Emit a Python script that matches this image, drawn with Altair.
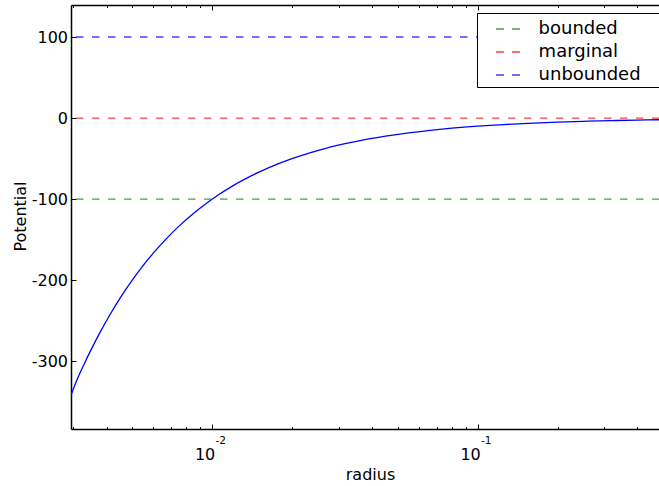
import altair as alt
import pandas as pd

# curve
radius = [0.00294, 0.0031, 0.0033, 0.0035, 0.0038, 0.0041, 0.0045, 0.005, 0.0055,
          0.006, 0.0067, 0.0075, 0.0085, 0.0095, 0.0105, 0.012, 0.0135, 0.015,
          0.0175, 0.02, 0.023, 0.027, 0.032, 0.038, 0.045, 0.055, 0.065, 0.08,
          0.1, 0.125, 0.155, 0.2, 0.25, 0.32, 0.4, 0.482]
potential = [-342.0, -322.6, -303.0, -285.7, -263.2, -243.9, -222.2, -200.0, -181.8,
             -166.7, -149.3, -133.3, -117.6, -105.3, -95.2, -83.3, -74.1, -66.7,
             -57.1, -50.0, -43.5, -37.0, -31.3, -26.3, -22.2, -18.2, -15.4, -12.5,
             -10.0, -8.0, -6.5, -5.0, -4.0, -3.1, -2.5, -2.1]

level_names = ["bounded", "marginal", "unbounded"]
level_values = [-100, 0, 100]
level_colors = ["#008000", "#ff0000", "#0000ff"]

x_domain = [0.00294, 0.482]
y_domain = [-383.6, 139.5]
y_ticks = [-300, -200, -100, 0, 100]
x_major = [0.01, 0.1]
x_minor = [0.003, 0.004, 0.005, 0.006, 0.007, 0.008, 0.009,
           0.02, 0.03, 0.04, 0.05, 0.06, 0.07, 0.08, 0.09,
           0.2, 0.3, 0.4]

curve = pd.DataFrame({"radius": radius, "potential": potential})
rows = []
for n, v in zip(level_names, level_values):
    for xv in x_domain:
        rows.append({"radius": xv, "potential": v, "kind": n})
levels = pd.DataFrame(rows)

W, H = 588, 424
FONT = "DejaVu Sans"

xs = alt.Scale(type="log", domain=x_domain, nice=False)
ys = alt.Scale(domain=y_domain, nice=False, zero=False)

major_test = "abs(log(datum.value)/LN10 - round(log(datum.value)/LN10)) < 0.001"
tick_size = {"condition": {"test": major_test, "value": 5}, "value": 2.5}

ax_bottom = alt.Axis(orient="bottom", values=x_major, labelExpr="'10'", ticks=False,
                     tickSize=0, domain=True, domainColor="black", domainWidth=1.5,
                     labelFontSize=16, labelBaseline="alphabetic", labelPadding=30.6,
                     labelOffset=-7.6, labelFlush=False, labelColor="black",
                     title="radius", titleX=299, titleY=50.8, titleBaseline="alphabetic",
                     titleAlign="center", titleFontSize=16, titleFontWeight="normal",
                     titleColor="black", grid=False)
ax_inticks = alt.Axis(orient="top", offset=-H, values=x_major + x_minor, labels=False,
                      domain=False, ticks=True, tickSize=tick_size, tickColor="black",
                      tickWidth=1, title=None, grid=False)
ax_topspine = alt.Axis(orient="bottom", offset=-H, values=x_major + x_minor, labels=False,
                       domain=True, domainColor="black", domainWidth=1.5, ticks=True,
                       tickSize=tick_size, tickColor="black", tickWidth=1, title=None,
                       grid=False)
ax_exp = alt.Axis(orient="bottom", values=x_major,
                  labelExpr="log(datum.value)/LN10 < -1.5 ? '-2' : '-1'",
                  ticks=False, tickSize=0, domain=False, labelFontSize=10.5,
                  labelBaseline="alphabetic", labelPadding=14.6, labelOffset=8,
                  labelFlush=False, labelColor="black", title=None, grid=False)

ay_left = alt.Axis(orient="left", values=y_ticks, labelExpr="'' + datum.value", ticks=False,
                   tickSize=0, domain=True, domainColor="black", domainWidth=1.5,
                   labelFontSize=16, labelPadding=3.5, labelColor="black", labelFlush=False,
                   title="Potential", titleX=-46, titleY=211, titleAngle=270,
                   titleBaseline="alphabetic", titleAlign="center", titleFontSize=16,
                   titleFontWeight="normal", titleColor="black", grid=False)
ay_inticks = alt.Axis(orient="right", offset=-W, values=y_ticks, labels=False, domain=False,
                      ticks=True, tickSize=5, tickColor="black", tickWidth=1, title=None,
                      grid=False)

layer_curve = alt.Chart(curve).mark_line(
    color="#0000ff", strokeWidth=1.3, interpolate="monotone", clip=True
).encode(
    x=alt.X("radius:Q", scale=xs, axis=ax_bottom),
    y=alt.Y("potential:Q", scale=ys, axis=ay_left),
)

layer_levels = alt.Chart(levels).mark_line(
    strokeWidth=1.3, strokeDash=[7.5, 8.5], strokeDashOffset=11, opacity=0.75, clip=True
).encode(
    x=alt.X("radius:Q", scale=xs, axis=ax_inticks),
    y=alt.Y("potential:Q", scale=ys, axis=ay_inticks),
    color=alt.Color(
        "kind:N",
        scale=alt.Scale(domain=level_names, range=level_colors),
        legend=alt.Legend(
            title="M", titleOrient="right", titlePadding=3.5, titleFontSize=12,
            titleOpacity=0, titleColor="white",
            orient="none", legendX=406, legendY=8,
            symbolType="stroke", symbolSize=576, symbolDash=[8, 8],
            symbolStrokeWidth=1.3, symbolOpacity=0.75, symbolOffset=15,
            labelOffset=17.6, labelFontSize=18, labelFont=FONT, labelColor="black",
            padding=3, rowPadding=1, strokeColor="black", fillColor="white",
            cornerRadius=0,
        ),
    ),
)

layer_top = alt.Chart(curve).mark_line(opacity=0).encode(
    x=alt.X("radius:Q", scale=xs, axis=ax_topspine),
    y=alt.Y("potential:Q", scale=ys, axis=None),
)

layer_exp = alt.Chart(curve).mark_line(opacity=0).encode(
    x=alt.X("radius:Q", scale=xs, axis=ax_exp),
    y=alt.Y("potential:Q", scale=ys, axis=None),
)

chart = alt.layer(layer_curve, layer_levels, layer_top, layer_exp).resolve_axis(
    x="independent", y="independent"
).properties(
    width=W, height=H,
    padding={"left": 71, "top": 5, "right": 0, "bottom": 57},
    autosize=alt.AutoSizeParams(type="none"),
    background="white",
).configure(font=FONT).configure_view(strokeWidth=0).configure_axis(
    labelFont=FONT, titleFont=FONT
).configure_legend(strokeWidth=1)

chart.save("out.html", embed_options={"renderer": "svg", "actions": False})
